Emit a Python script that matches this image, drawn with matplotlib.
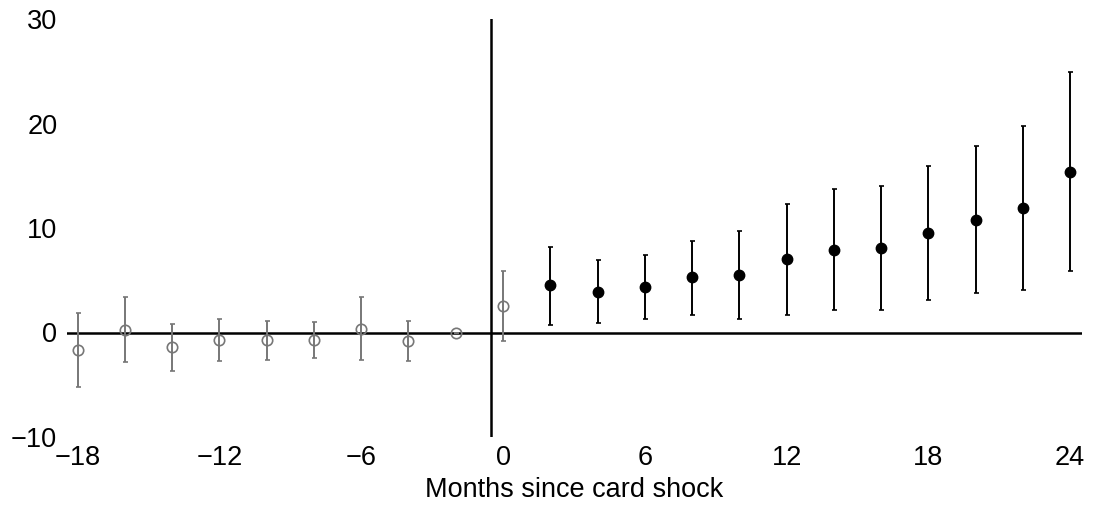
import numpy as np
import matplotlib
matplotlib.use("Agg")
import matplotlib.pyplot as plt

plt.rcParams['font.family'] = ['Liberation Sans', 'DejaVu Sans']

# event-study estimates, months relative to the card shock
months_pre = [-18, -16, -14, -12, -10, -8, -6, -4, -2, 0]
est_pre = [-1.7, 0.2, -1.4, -0.7, -0.7, -0.7, 0.35, -0.8, 0.0, 2.55]
lo_pre = [-5.2, -2.8, -3.7, -2.7, -2.6, -2.4, -2.6, -2.7, 0.0, -0.8]
hi_pre = [1.85, 3.35, 0.85, 1.25, 1.1, 1.0, 3.35, 1.1, 0.0, 5.9]

months_post = [2, 4, 6, 8, 10, 12, 14, 16, 18, 20, 22, 24]
est_post = [4.5, 3.9, 4.35, 5.3, 5.5, 7.0, 7.9, 8.1, 9.5, 10.75, 11.9, 15.4]
lo_post = [0.75, 0.95, 1.25, 1.7, 1.3, 1.65, 2.15, 2.2, 3.15, 3.75, 4.05, 5.9]
hi_post = [8.2, 6.9, 7.45, 8.8, 9.7, 12.25, 13.7, 14.05, 15.9, 17.8, 19.8, 24.9]

xticks = [-18, -12, -6, 0, 6, 12, 18, 24]
yticks = [-10, 0, 10, 20, 30]

fig = plt.figure(figsize=(10.94, 5.08), dpi=100)
ax = fig.add_axes([67/1094, 71/508, (1082-67)/1094, (489-71)/508])

# reference axes lines
ax.axhline(0, color='black', lw=1.8, zorder=1)
ax.axvline(-0.5, color='black', lw=1.8, zorder=1)

est_pre = np.array(est_pre)
yerr_pre = [est_pre - np.array(lo_pre), np.array(hi_pre) - est_pre]
ax.errorbar(months_pre, est_pre, yerr=yerr_pre, fmt='o', color='#777777',
            mfc='none', mec='#777777', ms=7.5, mew=1.2, elinewidth=1.4,
            capsize=1.8, capthick=1.2, zorder=3)

est_post = np.array(est_post)
yerr_post = [est_post - np.array(lo_post), np.array(hi_post) - est_post]
ax.errorbar(months_post, est_post, yerr=yerr_post, fmt='o', color='black',
            ms=7.5, elinewidth=1.4, capsize=1.8, capthick=1.2, zorder=3)

ax.set_xlim(-18.45, 24.5)
ax.set_ylim(-10, 30)
ax.set_xticks(xticks)
ax.set_yticks(yticks)
ax.tick_params(length=0, labelsize=19.5, pad=6)
ax.tick_params(axis='y', pad=7)
for s in ax.spines.values():
    s.set_visible(False)

ax.set_xlabel('Months since card shock', fontsize=19.5, labelpad=4)

fig.savefig('out.png', dpi=100)
